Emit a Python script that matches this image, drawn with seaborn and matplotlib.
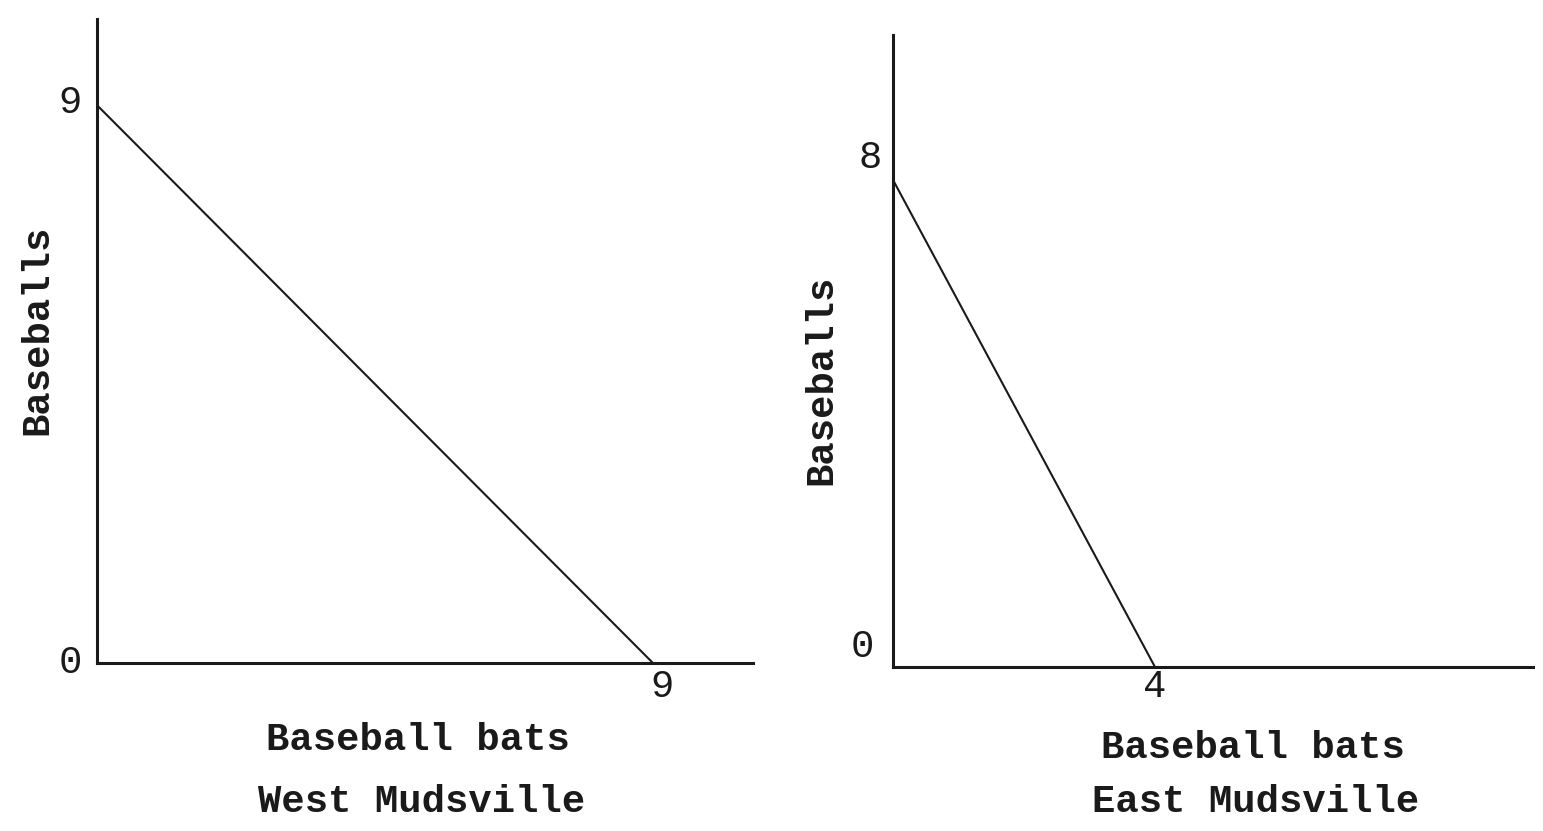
import matplotlib
matplotlib.use("Agg")
import matplotlib.pyplot as plt
import matplotlib.transforms as mtransforms
import seaborn as sns
import pandas as pd

# production possibilities
west_bats = [0, 9]
west_balls = [9, 0]
east_bats = [0, 4]
east_balls = [8, 0]

x_label = "Baseball bats"
y_label = "Baseballs"
regions = ["West Mudsville", "East Mudsville"]

sns.set_style("white")
plt.rcParams['font.family'] = ['Liberation Mono', 'DejaVu Sans Mono']

ink = "#1a1a1a"
fig = plt.figure(figsize=(15.43, 8.31), dpi=100)

# axes rectangles in figure fractions
ax1 = fig.add_axes([97 / 1543, 1 - 663 / 831, 656 / 1543, 644 / 831])
ax2 = fig.add_axes([892.5 / 1543, 1 - 667 / 831, 640.5 / 1543, 632 / 831])

west = pd.DataFrame({"bats": west_bats, "balls": west_balls})
east = pd.DataFrame({"bats": east_bats, "balls": east_balls})

sns.lineplot(data=west, x="bats", y="balls", ax=ax1, color=ink, linewidth=1.5)
sns.lineplot(data=east, x="bats", y="balls", ax=ax2, color=ink, linewidth=1.5)

ax1.set_xlim(0, 10.62)
ax1.set_ylim(0, 10.39)
ax2.set_xlim(0, 9.76)
ax2.set_ylim(0, 10.36)


def shift(lbl, dx, dy):
    # move a tick label by dx, dy pixels
    lbl.set_transform(lbl.get_transform() +
                      mtransforms.ScaledTranslation(dx / 100, dy / 100, fig.dpi_scale_trans))


def style(ax, xt, yt, xoff, yoffs):
    for s in ["top", "right"]:
        ax.spines[s].set_visible(False)
    for s in ["left", "bottom"]:
        ax.spines[s].set_color(ink)
        ax.spines[s].set_linewidth(2.2)
    ax.set_xticks(xt)
    ax.set_yticks(yt)
    ax.tick_params(length=0, pad=0, labelsize=28, colors=ink)
    for lbl in ax.get_xticklabels():
        lbl.set_verticalalignment("center")
        shift(lbl, xoff[0], xoff[1])
    for lbl, (dx, dy) in zip(ax.get_yticklabels(), yoffs):
        lbl.set_horizontalalignment("center")
        lbl.set_verticalalignment("center")
        shift(lbl, dx, dy)


style(ax1, [9], [0, 9], (9, -24), [(-27, 0), (-27, 2)])
style(ax2, [4], [0, 8], (0, -20), [(-30, 20), (-22, 21)])

for ax, xl, yl, rg in [
    (ax1, (0.489, -0.1196), (-0.0915, 0.517), (0.4954, -0.2158)),
    (ax2, (0.5629, -0.1282), (-0.1116, 0.454), (0.5675, -0.2136)),
]:
    ax.set_xlabel(x_label, fontsize=28, fontweight="bold", color=ink, va="center")
    ax.set_ylabel(y_label, fontsize=28, fontweight="bold", color=ink, va="center")
    ax.xaxis.set_label_coords(*xl)
    ax.yaxis.set_label_coords(*yl)

ax1.text(0.4954, -0.2158, regions[0], transform=ax1.transAxes, ha="center",
         va="center", fontsize=28, fontweight="bold", color=ink)
ax2.text(0.5675, -0.2136, regions[1], transform=ax2.transAxes, ha="center",
         va="center", fontsize=28, fontweight="bold", color=ink)

fig.savefig("out.png", dpi=100)
